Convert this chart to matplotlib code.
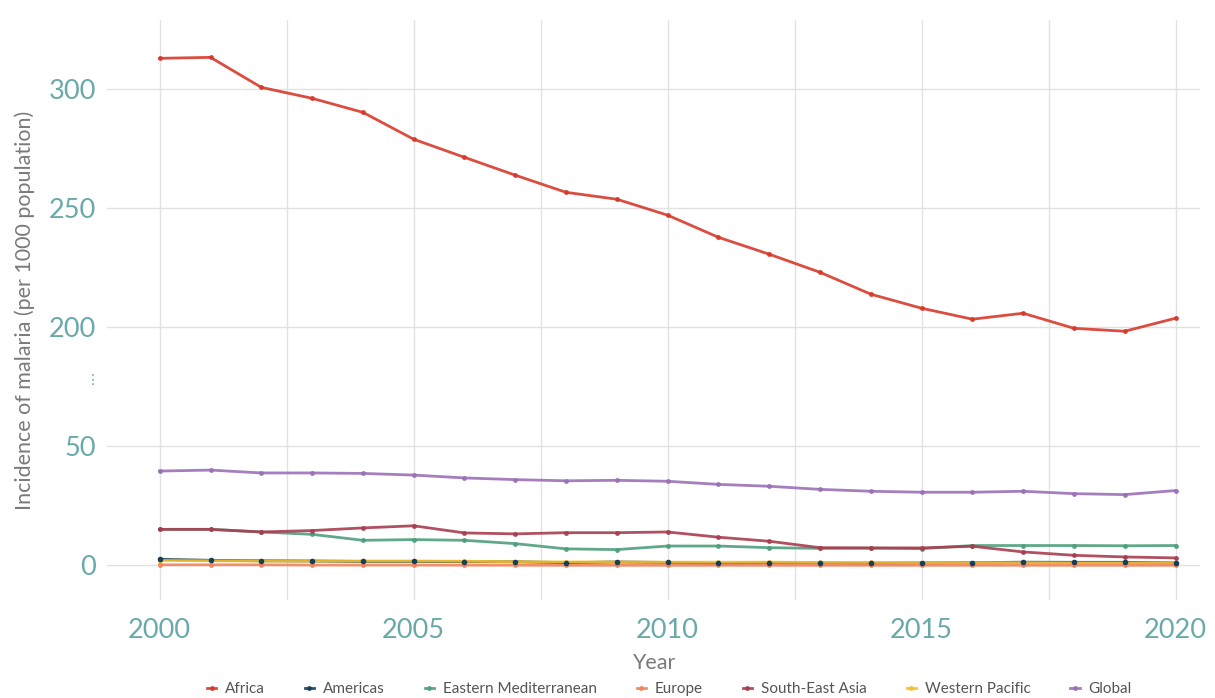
import numpy as np
import matplotlib
matplotlib.use('Agg')
import matplotlib.pyplot as plt
import matplotlib.transforms as mtransforms

plt.rcParams['font.family'] = ['Lato', 'DejaVu Sans']

years = list(range(2000, 2021))

africa = [313.0, 313.4, 300.8, 296.2, 290.3, 279.0, 271.4, 263.9, 256.7, 253.8, 247.1,
          237.8, 230.7, 223.1, 213.9, 208.0, 203.4, 205.9, 198.7, 195.0, 203.8]
americas = [2.5, 2.1, 1.9, 1.8, 1.6, 1.6, 1.5, 1.5, 1.1, 1.4, 1.2,
            0.8, 1.1, 1.0, 0.9, 1.0, 1.1, 1.3, 1.25, 1.25, 1.0]
east_med = [15.1, 15.1, 14.0, 13.0, 10.5, 10.8, 10.5, 9.1, 6.9, 6.6, 8.1,
            8.1, 7.4, 7.1, 7.2, 7.0, 8.3, 8.3, 8.3, 8.2, 8.3]
europe = [0.2, 0.2, 0.2, 0.1, 0.1, 0.1, 0.05, 0.05, 0.0, 0.0, 0.0,
          0.0, 0.0, 0.0, 0.0, 0.0, 0.0, 0.0, 0.0, 0.0, 0.0]
se_asia = [15.1, 15.1, 14.0, 14.6, 15.7, 16.6, 13.6, 13.2, 13.7, 13.7, 14.0,
           11.8, 10.1, 7.4, 7.3, 7.3, 8.0, 5.6, 4.2, 3.5, 3.1]
w_pacific = [2.0, 1.9, 1.8, 1.8, 1.8, 1.8, 1.7, 1.5, 1.4, 1.4, 1.3,
             1.3, 1.3, 1.2, 1.2, 1.1, 1.1, 1.1, 1.0, 1.0, 1.0]
global_ = [39.6, 40.0, 38.8, 38.8, 38.6, 37.9, 36.7, 36.0, 35.5, 35.7, 35.3,
           34.0, 33.2, 31.9, 31.1, 30.7, 30.7, 31.1, 30.1, 29.7, 31.4]

names = ['Africa', 'Americas', 'Eastern Mediterranean', 'Europe',
         'South-East Asia', 'Western Pacific', 'Global']
series = [africa, americas, east_med, europe, se_asia, w_pacific, global_]
colors = ['#d73a2b', '#173f56', '#4f9f7c', '#f2845f', '#a83e50', '#f3bf2c', '#9b70b7']
zorders = [3, 2.5, 3, 4, 3, 3.5, 3]


# broken axis: 0-50 linear, 50-200 squeezed, 200+ shifted down by 100
def fwd(v):
    v = np.asarray(v, dtype=float)
    return np.where(v <= 50, v, np.where(v >= 200, v - 100, 50 + (v - 50) / 3.0))


def inv(t):
    t = np.asarray(t, dtype=float)
    return np.where(t <= 50, t, np.where(t >= 100, t + 100, 50 + (t - 50) * 3.0))


fig = plt.figure(figsize=(12.15, 6.98), dpi=100)
ax = fig.add_axes([0.088, 0.140, 0.900, 0.831])
ax.set_yscale('function', functions=(fwd, inv))

for name, vals, c, z in zip(names, series, colors, zorders):
    ax.plot(years, vals, color=c, lw=2, alpha=0.9, marker='o', ms=2.5,
            label=name, zorder=z)
# americas markers sit on top of the low lines
ax.plot(years, americas, ls='none', marker='o', ms=3, color=colors[1], zorder=6)

ax.set_xlim(1998.96, 2020.49)
ax.set_ylim(-14.7, 329)
ax.set_yticks([0, 50, 200, 250, 300])
ax.set_yticklabels(['0', '50', '200', '250', '300'])
ax.set_xticks([2000, 2005, 2010, 2015, 2020])
ax.set_xticks([2002.5, 2007.5, 2012.5, 2017.5], minor=True)
ax.yaxis.set_minor_locator(matplotlib.ticker.NullLocator())

ax.grid(True, which='both', axis='x', color='#e2e2e2', lw=1)
ax.grid(True, which='major', axis='y', color='#e2e2e2', lw=1)
ax.set_axisbelow(True)
for s in ax.spines.values():
    s.set_visible(False)

tick_col = '#6aa9a9'
ax.tick_params(axis='both', which='both', length=0, colors=tick_col, labelsize=19.5)
ax.tick_params(axis='y', pad=8)
ax.tick_params(axis='x', pad=13)

# break marker on the y axis
trans = mtransforms.blended_transform_factory(ax.transAxes, ax.transData)
ax.text(-0.013, 133, '\u22ee', transform=trans, ha='center', va='center',
        color=tick_col, fontsize=10, family=['DejaVu Sans'])

ax.set_ylabel('Incidence of malaria (per 1000 population)', fontsize=15.5,
              color='#7a7a7a', labelpad=10)
ax.set_xlabel('Year', fontsize=15.5, color='#7a7a7a', labelpad=7)

fig.legend(*ax.get_legend_handles_labels(), loc='center',
           bbox_to_anchor=(0.551, 1 - 689 / 698), ncol=7, frameon=False,
           fontsize=11, handlelength=0.6, columnspacing=2.6, handletextpad=0.6,
           labelcolor='#555555', borderpad=0.1)

fig.savefig('out.png', dpi=100)
